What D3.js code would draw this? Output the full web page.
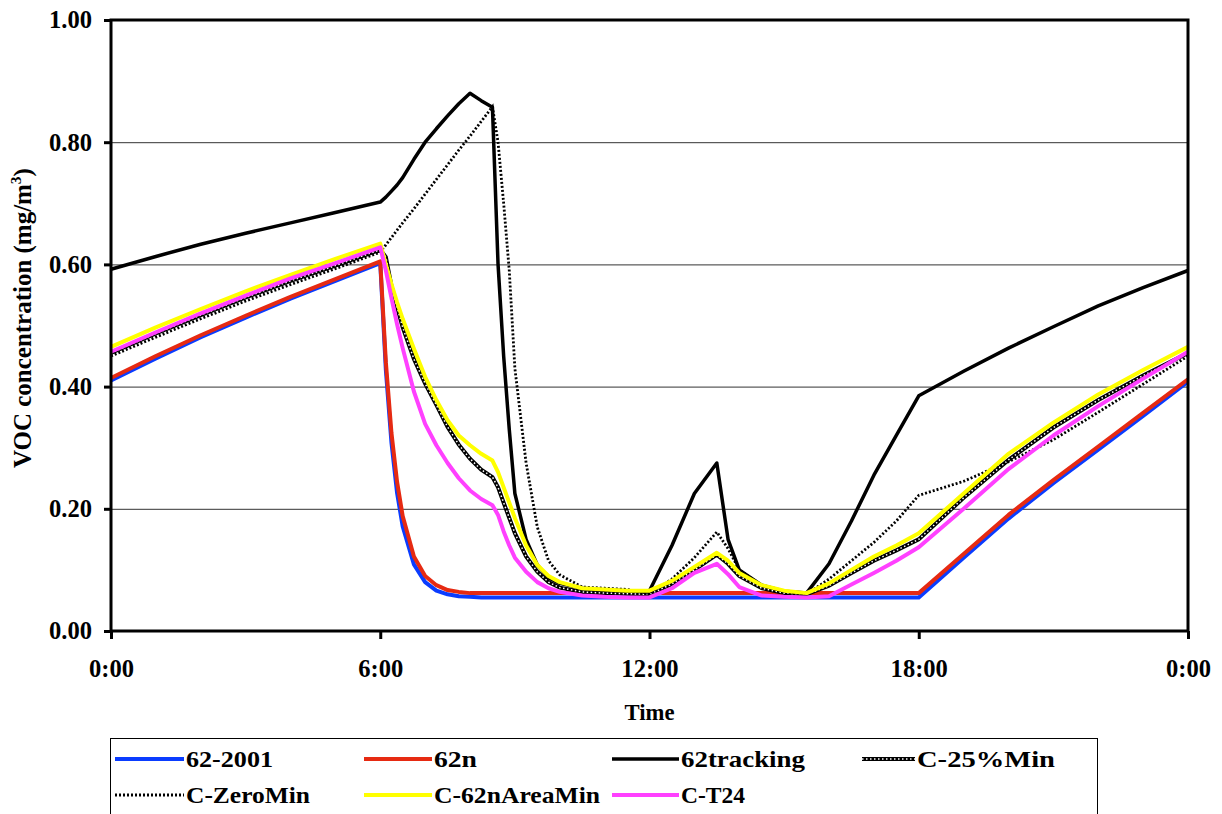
<!DOCTYPE html>
<html><head><meta charset="utf-8">
<script src="https://cdn.jsdelivr.net/npm/d3@7"></script>
<style>body{margin:0;background:#fff}</style>
</head><body><svg id="c" width="1222" height="814"></svg>
<script>
const hours = [0,1,2,3,4,5,6,6.125,6.25,6.375,6.5,6.75,7,7.25,7.5,7.75,8,8.25,8.5,8.625,8.75,8.875,9,9.25,9.5,9.75,10,10.5,11,11.5,12,12.5,13,13.5,13.75,14,14.5,15,15.5,16,16.5,17,17.5,18,19,20,21,22,23,24];

const s62_2001 = [0.410,0.446,0.481,0.513,0.544,0.573,0.602, 0.427,0.308,0.226,0.171, 0.109,0.080,0.066,0.060,0.057,0.056,0.055,0.055, 0.055,0.055,0.055,0.055, 0.055,0.055,0.055,0.055, 0.055,0.055,0.055,0.055, 0.055,0.055,0.055,0.055,0.055, 0.055,0.055,0.055,0.055, 0.055,0.055,0.055,0.055, 0.120,0.184,0.242,0.297,0.352,0.408];
const s62n = [0.414,0.450,0.484,0.516,0.547,0.576,0.605, 0.440,0.324,0.244,0.188, 0.122,0.090,0.075,0.067,0.064,0.062,0.062,0.062, 0.062,0.062,0.062,0.062, 0.062,0.062,0.062,0.062, 0.062,0.062,0.062,0.062, 0.062,0.062,0.062,0.062,0.062, 0.062,0.062,0.062,0.062, 0.062,0.062,0.062,0.062, 0.126,0.190,0.247,0.302,0.357,0.412];
const s62tracking = [0.592,0.613,0.633,0.651,0.668,0.685,0.702, 0.710,0.720,0.730,0.742, 0.772,0.800,0.822,0.843,0.863,0.880,0.868,0.857, 0.600,0.450,0.330,0.225, 0.150,0.108,0.087,0.078, 0.070,0.067,0.066,0.066, 0.140,0.225,0.275,0.150,0.100, 0.075,0.065,0.062,0.110, 0.180,0.255,0.320,0.385, 0.425,0.463,0.498,0.532,0.562,0.590];
const sC25Min = [0.455,0.487,0.517,0.546,0.573,0.598,0.624, 0.612,0.565,0.530,0.497, 0.445,0.405,0.370,0.334,0.305,0.282,0.264,0.252, 0.235,0.210,0.185,0.160, 0.122,0.097,0.080,0.071, 0.064,0.062,0.061,0.060, 0.077,0.100,0.125,0.110,0.090, 0.070,0.062,0.060,0.074, 0.095,0.115,0.132,0.150, 0.218,0.280,0.333,0.378,0.418,0.455];
const sCZeroMin = [0.450,0.481,0.511,0.540,0.567,0.593,0.620, 0.632,0.644,0.656,0.668, 0.691,0.715,0.739,0.763,0.787,0.810,0.834,0.858, 0.800,0.700,0.590,0.430, 0.275,0.170,0.115,0.092, 0.072,0.070,0.068,0.061, 0.085,0.120,0.162,0.135,0.100, 0.075,0.065,0.060,0.085, 0.115,0.145,0.180,0.222, 0.245,0.277,0.313,0.358,0.404,0.450];
const sC62nAreaMin = [0.465,0.497,0.527,0.556,0.583,0.609,0.634, 0.600,0.568,0.538,0.511, 0.462,0.416,0.378,0.345,0.320,0.304,0.290,0.279, 0.260,0.235,0.210,0.185, 0.140,0.108,0.090,0.080, 0.070,0.068,0.066,0.066, 0.082,0.105,0.128,0.115,0.095, 0.075,0.066,0.062,0.078, 0.100,0.122,0.140,0.160, 0.225,0.290,0.341,0.387,0.427,0.465];
const sCT24 = [0.457,0.489,0.520,0.549,0.577,0.602,0.628, 0.590,0.545,0.502,0.463, 0.392,0.339,0.304,0.275,0.250,0.230,0.216,0.206, 0.190,0.163,0.140,0.120, 0.097,0.080,0.070,0.064, 0.058,0.056,0.055,0.055, 0.070,0.095,0.110,0.093,0.072, 0.058,0.056,0.055,0.057, 0.076,0.095,0.115,0.137, 0.200,0.265,0.320,0.368,0.413,0.457];

const seriesNames = ["62-2001","62n","62tracking","C-25%Min","C-ZeroMin","C-62nAreaMin","C-T24"];
const yTicks = [0,0.2,0.4,0.6,0.8,1.0];
const xTicks = [0,6,12,18,24];
const xTickLabels = ["0:00","6:00","12:00","18:00","0:00"];

const seriesData = [s62_2001, s62n, s62tracking, sC25Min, sCZeroMin, sC62nAreaMin, sCT24];
const styles = [
  {type:"solid", color:"#0a3cff", w:4},
  {type:"solid", color:"#e62a12", w:4},
  {type:"solid", color:"#000", w:3.5},
  {type:"dot25"},
  {type:"dotZero"},
  {type:"solid", color:"#ffff00", w:4},
  {type:"solid", color:"#ff40ff", w:4}
];

// pick an installed Times-like font
function fontAvailable(name){
  const c = document.createElement("canvas").getContext("2d");
  const s = "abcdefghijklmnopqrstuvwxyzABCDEFGHIJ0123456789";
  return ["monospace","sans-serif"].some(fb=>{
    c.font = `bold 40px ${fb}`; const w0 = c.measureText(s).width;
    c.font = `bold 40px "${name}", ${fb}`; return Math.abs(c.measureText(s).width - w0) > 0.5;
  });
}
const fontCands = ["Liberation Serif","Tinos","Times New Roman","Nimbus Roman","FreeSerif","DejaVu Serif","Noto Serif"];
const chosen = fontCands.find(fontAvailable);
const FONT = chosen ? `"${chosen}", serif` : "serif";

const svg = d3.select("#c");
const L = 111, T = 20, W = 1077, H = 611;
const x = d3.scaleLinear().domain([0,24]).range([L, L+W]);
const y = d3.scaleLinear().domain([0,1]).range([T+H, T]);

svg.append("g").attr("transform",`translate(${L},0)`)
  .call(d3.axisLeft(y).tickValues([0.2,0.4,0.6,0.8]).tickSize(-W).tickFormat(""))
  .call(g=>g.select(".domain").remove())
  .call(g=>g.selectAll("line").attr("stroke","#333").attr("stroke-width",1));

const lineGen = d3.line().x(d=>x(d[0])).y(d=>y(d[1]));
const plot = svg.append("g");
function drawPath(sel, d, st){
  if(st.type==="solid"){
    sel.append("path").attr("d",d).attr("fill","none")
      .attr("stroke",st.color).attr("stroke-width",st.w).attr("stroke-linejoin","round");
  } else if(st.type==="dot25"){
    sel.append("path").attr("d",d).attr("fill","none").attr("stroke","#000").attr("stroke-width",4);
    sel.append("path").attr("d",d).attr("fill","none").attr("stroke","#fff").attr("stroke-width",1.5).attr("stroke-dasharray","1.5,2.5");
  } else {
    sel.append("path").attr("d",d).attr("fill","none").attr("stroke","#000").attr("stroke-width",2.8).attr("stroke-dasharray","2,2");
  }
}
seriesData.forEach((vals,i)=>{
  const pts = hours.map((h,j)=>[h, vals[j]]);
  drawPath(plot, lineGen(pts), styles[i]);
});

svg.append("rect").attr("x",L).attr("y",T).attr("width",W).attr("height",H)
  .attr("fill","none").attr("stroke","#000").attr("stroke-width",3);

// fit a text node's font-size to a target width
function fit(node, target){
  const fs = parseFloat(node.getAttribute("font-size"));
  const w = node.getComputedTextLength();
  if(w>0){ const k = Math.max(0.8, Math.min(1.25, target/w)); node.setAttribute("font-size", (fs*k).toFixed(2)); }
}

const ya = svg.append("g").attr("transform",`translate(${L},0)`)
  .call(d3.axisLeft(y).tickValues(yTicks).tickSize(7).tickPadding(12).tickFormat(d3.format(".2f")));
ya.select(".domain").remove();
ya.attr("font-family",FONT).attr("font-weight","bold");
ya.selectAll("line").attr("stroke","#000").attr("stroke-width",3);
ya.selectAll("text").attr("font-family",FONT).attr("font-weight","bold").attr("font-size",24).attr("fill","#000")
  .each(function(){ fit(this, 43); });

const xa = svg.append("g").attr("transform",`translate(0,${T+H})`)
  .call(d3.axisBottom(x).tickValues(xTicks).tickSize(8).tickPadding(20).tickFormat((d,i)=>xTickLabels[i]));
xa.select(".domain").remove();
xa.attr("font-family",FONT).attr("font-weight","bold");
xa.selectAll("line").attr("stroke","#000").attr("stroke-width",3);
xa.selectAll("text").attr("font-family",FONT).attr("font-weight","bold").attr("font-size",24).attr("fill","#000")
  .attr("dy",null).attr("dominant-baseline","central").attr("y",37);
xa.selectAll("text").filter((d,i)=>i===0).each(function(){ fit(this, 45); });
const xs = parseFloat(xa.select("text").attr("font-size"));
xa.selectAll("text").attr("font-size",xs);

const tTime = svg.append("text").attr("x",x(12)).attr("y",712).attr("text-anchor","middle").attr("dominant-baseline","central")
  .attr("font-family",FONT).attr("font-weight","bold").attr("font-size",22).text("Time");
fit(tTime.node(), 50);

const yt = svg.append("text").attr("transform",`translate(22,318) rotate(-90)`).attr("text-anchor","middle")
  .attr("dominant-baseline","central")
  .attr("font-family",FONT).attr("font-weight","bold").attr("font-size",23);
yt.append("tspan").text("VOC concentration (mg/m");
yt.append("tspan").attr("font-size","0.62em").attr("dy","-0.45em").text("3");
yt.append("tspan").attr("dy","0.28em").text(")");
fit(yt.node(), 300);

const lg = svg.append("g");
lg.append("rect").attr("x",110.5).attr("y",738.5).attr("width",987).attr("height",100)
  .attr("fill","#fff").attr("stroke","#000").attr("stroke-width",1);
const legLineX = [115, 364, 612, 862];
const legTextX = [186, 434, 681, 917];
const legTextW = [87, 43, 124, 138, 124, 166, 64];
const legRowY = [759, 795];
seriesNames.forEach((n,i)=>{
  const c = i%4, r = Math.floor(i/4);
  const yy = legRowY[r];
  drawPath(lg, `M${legLineX[c]},${yy}L${legTextX[c]-2},${yy}`, styles[i]);
  lg.append("text").attr("x",legTextX[c]).attr("y",yy).attr("dominant-baseline","central")
    .attr("font-family",FONT).attr("font-weight","bold").attr("font-size",24)
    .attr("textLength",legTextW[i]).attr("lengthAdjust","spacingAndGlyphs").text(n);
});
</script></body></html>
